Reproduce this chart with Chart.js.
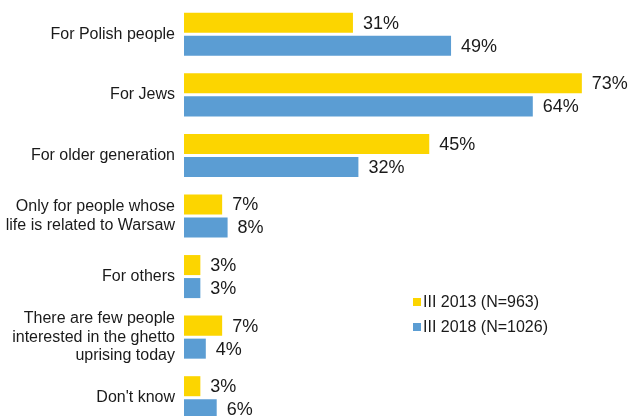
<!DOCTYPE html>
<html>
<head>
<meta charset="utf-8">
<script src="https://cdn.jsdelivr.net/npm/chart.js@4.4.1/dist/chart.umd.min.js"></script>
<style>
html,body{margin:0;padding:0;background:#fff;overflow:hidden;}
#wrap{position:relative;width:633px;height:430px;}
</style>
</head>
<body>
<div id="wrap"><canvas id="c" width="633" height="430"></canvas></div>
<script>
const categories = [
  "For Polish people",
  "For Jews",
  "For older generation",
  ["Only for people whose", "life is related to Warsaw"],
  "For others",
  ["There are few people", "interested in the ghetto", "uprising today"],
  "Don't know"
];
const seriesNames = ["III 2013 (N=963)", "III 2018 (N=1026)"];
const values2013 = [31, 73, 45, 7, 3, 7, 3];
const values2018 = [49, 64, 32, 8, 3, 4, 6];
const seriesColors = ["#FCD500", "#5B9DD3"];

const valueLabels = {
  id: 'valueLabels',
  afterDatasetsDraw(chart) {
    const ctx = chart.ctx;
    ctx.save();
    ctx.font = '18px "Liberation Sans", Arial, sans-serif';
    ctx.fillStyle = '#1a1a1a';
    ctx.textBaseline = 'middle';
    ctx.textAlign = 'left';
    chart.data.datasets.forEach((ds, i) => {
      const meta = chart.getDatasetMeta(i);
      meta.data.forEach((bar, j) => {
        ctx.fillText(ds.data[j] + '%', bar.x + 10, bar.y + 1);
      });
    });
    ctx.restore();
  }
};

const customLegend = {
  id: 'customLegend',
  afterDraw(chart) {
    const ctx = chart.ctx;
    ctx.save();
    ctx.font = '16px "Liberation Sans", Arial, sans-serif';
    ctx.fillStyle = '#1a1a1a';
    ctx.textBaseline = 'middle';
    const x0 = 413, y0 = 302, gap = 25;
    chart.data.datasets.forEach((ds, i) => {
      const y = y0 + i * gap;
      ctx.fillStyle = ds.backgroundColor;
      ctx.fillRect(x0, y - 4, 8, 8);
      ctx.fillStyle = '#1a1a1a';
      ctx.fillText(ds.label, x0 + 10, y + 1);
    });
    ctx.restore();
  }
};

new Chart(document.getElementById('c'), {
  type: 'bar',
  data: {
    labels: categories,
    datasets: [
      { label: seriesNames[0], data: values2013, backgroundColor: seriesColors[0], borderWidth: 0 },
      { label: seriesNames[1], data: values2018, backgroundColor: seriesColors[1], borderWidth: 0 }
    ]
  },
  options: {
    indexAxis: 'y',
    responsive: false,
    animation: false,
    events: [],
    layout: { padding: { top: 4, bottom: 2, left: 0, right: 13 } },
    datasets: { bar: { categoryPercentage: 0.76, barPercentage: 0.87 } },
    plugins: { legend: { display: false }, tooltip: { enabled: false } },
    scales: {
      x: { display: false, min: 0, max: 80 },
      y: {
        grid: { display: false, drawTicks: false },
        border: { display: false },
        afterFit(scale) { scale.width = 184; scale.paddingTop = 0; scale.paddingBottom = 0; },
        ticks: {
          padding: 9,
          color: '#1a1a1a',
          font: { family: '"Liberation Sans", Arial, sans-serif', size: 16, lineHeight: 1.15 }
        }
      }
    }
  },
  plugins: [valueLabels, customLegend]
});
</script>
</body>
</html>
